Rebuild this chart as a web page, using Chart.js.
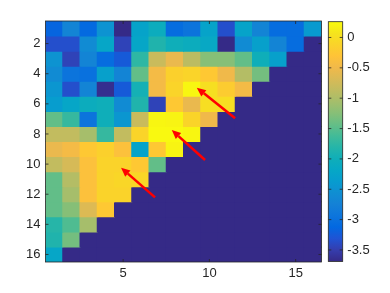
<!DOCTYPE html>
<html>
<head>
<meta charset="utf-8">
<script src="https://cdn.jsdelivr.net/npm/chart.js@4.4.1/dist/chart.umd.min.js"></script>
<style>
  html, body { margin: 0; padding: 0; background: #fff; }
  #wrap { position: relative; width: 390px; height: 293px; }
  #wrap canvas { position: absolute; left: 0; top: 0; }
</style>
</head>
<body>
<div id="wrap">
  <canvas id="heat" width="390" height="293"></canvas>
  <canvas id="cbar" width="390" height="293"></canvas>
</div>
<script>
// matrix columns / rows (1-based, row 1 drawn at the top)
const columns = ['1','2','3','4','5','6','7','8','9','10','11','12','13','14','15','16'];
const rowNumbers = [1,2,3,4,5,6,7,8,9,10,11,12,13,14,15,16];

// cell values, one array per row (left to right)
const row1  = [-3.15,-2.70,-3.10,-2.50,-3.69,-2.25,-2.05,-3.05,-2.95,-2.25,-3.35,-2.25,-2.70,-3.05,-3.05,-2.40];
const row2  = [-3.35,-3.35,-2.60,-2.20,-3.45,-2.20,-1.85,-2.00,-2.05,-2.15,-3.69,-2.60,-2.30,-2.70,-3.05,-3.69];
const row3  = [-2.50,-3.45,-2.70,-3.05,-3.25,-1.75,-0.80,-0.55,-0.90,-1.25,-1.25,-1.45,-2.00,-2.30,-3.69,-3.69];
const row4  = [-2.60,-2.95,-3.00,-2.30,-2.70,-1.45,-0.45,-0.15,-0.10,-0.25,-0.50,-0.95,-1.35,-3.69,-3.69,-3.69];
const row5  = [-2.45,-3.35,-2.70,-3.65,-3.25,-1.95,-0.45,-0.10, 0.22, 0.02,-0.20,-0.45,-3.69,-3.69,-3.69,-3.69];
const row6  = [-2.35,-2.20,-2.05,-2.00,-2.60,-1.85,-3.45,-0.25,-0.55, 0.00, 0.00,-3.69,-3.69,-3.69,-3.69,-3.69];
const row7  = [-1.45,-1.70,-2.95,-2.00,-2.45,-0.80, 0.22, 0.20,-0.10,-0.50,-3.69,-3.69,-3.69,-3.69,-3.69,-3.69];
const row8  = [-0.85,-0.85,-1.05,-1.70,-0.85,-0.10, 0.24, 0.24, 0.22,-3.69,-3.69,-3.69,-3.69,-3.69,-3.69,-3.69];
const row9  = [-0.55,-0.45,-0.25,-0.15,-0.35,-2.25,-0.25, 0.20,-3.69,-3.69,-3.69,-3.69,-3.69,-3.69,-3.69,-3.69];
const row10 = [-0.85,-0.70,-0.35,-0.12,-0.12,-0.25,-1.45,-3.69,-3.69,-3.69,-3.69,-3.69,-3.69,-3.69,-3.69,-3.69];
const row11 = [-1.45,-0.95,-0.35,-0.12,-0.08,-0.08,-3.69,-3.69,-3.69,-3.69,-3.69,-3.69,-3.69,-3.69,-3.69,-3.69];
const row12 = [-1.45,-1.05,-0.35,-0.12,-0.12,-3.69,-3.69,-3.69,-3.69,-3.69,-3.69,-3.69,-3.69,-3.69,-3.69,-3.69];
const row13 = [-1.45,-1.25,-0.65,-0.25,-3.69,-3.69,-3.69,-3.69,-3.69,-3.69,-3.69,-3.69,-3.69,-3.69,-3.69,-3.69];
const row14 = [-1.80,-1.55,-1.05,-3.69,-3.69,-3.69,-3.69,-3.69,-3.69,-3.69,-3.69,-3.69,-3.69,-3.69,-3.69,-3.69];
const row15 = [-1.85,-1.35,-3.69,-3.69,-3.69,-3.69,-3.69,-3.69,-3.69,-3.69,-3.69,-3.69,-3.69,-3.69,-3.69,-3.69];
const row16 = [-2.20,-3.69,-3.69,-3.69,-3.69,-3.69,-3.69,-3.69,-3.69,-3.69,-3.69,-3.69,-3.69,-3.69,-3.69,-3.69];
const matrixRows = [row1,row2,row3,row4,row5,row6,row7,row8,row9,row10,row11,row12,row13,row14,row15,row16];

const xTickValues = [5, 10, 15];
const yTickValues = [2, 4, 6, 8, 10, 12, 14, 16];
const colorbarTicks = [-3.5, -3, -2.5, -2, -1.5, -1, -0.5, 0];
const colorMin = -3.69;
const colorMax = 0.26;

// red arrows, [column, row] in matrix units
const arrowTails = [[11.49, 6.96], [9.75, 9.73], [6.85, 12.21]];
const arrowHeads = [[9.27, 4.93], [7.82, 7.74], [4.88, 10.24]];

// parula, sampled every 3rd entry of the 64-colour table
const parula = [
  [53,42,135],[53,61,173],[32,83,212],[2,104,225],[13,117,220],[20,129,214],
  [16,142,210],[7,156,207],[6,167,198],[15,174,185],[37,181,169],[66,187,152],
  [101,190,134],[135,191,119],[165,190,107],[192,188,96],[217,186,86],[241,185,74],
  [255,195,55],[250,211,42],[245,228,29],[249,251,14]
];

const FONT = { family: '"Liberation Sans", Arial, sans-serif', size: 13 };
const INK = '#262626';

Chart.defaults.animation = false;
Chart.defaults.font.family = FONT.family;

function colorFor(v) {
  let t = (v - colorMin) / (colorMax - colorMin);
  t = Math.max(0, Math.min(1, t));
  const p = t * (parula.length - 1);
  const i = Math.min(parula.length - 2, Math.floor(p));
  const f = p - i;
  const a = parula[i], b = parula[i + 1];
  const c = a.map((ch, k) => Math.round(ch + (b[k] - ch) * f));
  return `rgb(${c[0]},${c[1]},${c[2]})`;
}

function drawArrow(c, x0, y0, x1, y1) {
  const ang = Math.atan2(y1 - y0, x1 - x0);
  const len = 9, half = 4;
  const bx = x1 - len * Math.cos(ang), by = y1 - len * Math.sin(ang);
  c.strokeStyle = '#ff0000';
  c.fillStyle = '#ff0000';
  c.lineWidth = 2.5;
  c.beginPath();
  c.moveTo(x0, y0);
  c.lineTo(bx, by);
  c.stroke();
  c.beginPath();
  c.moveTo(x1, y1);
  c.lineTo(bx + half * Math.sin(ang), by - half * Math.cos(ang));
  c.lineTo(bx - half * Math.sin(ang), by + half * Math.cos(ang));
  c.closePath();
  c.fill();
}

const heatFrame = {
  id: 'heatFrame',
  afterDatasetsDraw(chart) {
    const { ctx: c, chartArea: a, scales: { x, y } } = chart;
    c.save();
    c.strokeStyle = INK;
    c.lineWidth = 0.8;
    c.strokeRect(a.left, a.top, a.right - a.left, a.bottom - a.top);
    c.beginPath();
    xTickValues.forEach(v => {
      const px = x.getPixelForValue(v - 1);
      c.moveTo(px, a.bottom); c.lineTo(px, a.bottom - 3);
      c.moveTo(px, a.top); c.lineTo(px, a.top + 3);
    });
    yTickValues.forEach(v => {
      const py = y.getPixelForValue(v);
      c.moveTo(a.left, py); c.lineTo(a.left + 3, py);
      c.moveTo(a.right, py); c.lineTo(a.right - 3, py);
    });
    c.stroke();
    arrowTails.forEach((t, i) => {
      const h = arrowHeads[i];
      drawArrow(c,
        x.getPixelForValue(t[0] - 1), y.getPixelForValue(t[1]),
        x.getPixelForValue(h[0] - 1), y.getPixelForValue(h[1]));
    });
    c.restore();
  }
};

function buildHeatmap() {
  const datasets = matrixRows.map((vals, r) => ({
    data: columns.map(() => [rowNumbers[r] - 0.5, rowNumbers[r] + 0.5]),
    backgroundColor: vals.map(colorFor),
    borderWidth: 0,
    inflateAmount: 0.5,
    barPercentage: 1,
    categoryPercentage: 1,
    grouped: false
  }));
  new Chart(document.getElementById('heat').getContext('2d'), {
    type: 'bar',
    data: { labels: columns, datasets },
    options: {
      responsive: false,
      layout: { padding: { top: 21, right: 68.5, left: 0, bottom: 0 } },
      plugins: { legend: { display: false }, tooltip: { enabled: false } },
      scales: {
        x: {
          type: 'category',
          grid: { display: false, drawTicks: false },
          border: { display: false },
          ticks: {
            autoSkip: false, maxRotation: 0, padding: 4,
            color: INK, font: FONT,
            callback: (val, i) => xTickValues.includes(i + 1) ? String(i + 1) : ''
          },
          afterFit: s => { s.height = 31; }
        },
        y: {
          type: 'linear', min: 0.5, max: 16.5, reverse: true,
          grid: { display: false, drawTicks: false },
          border: { display: false },
          afterBuildTicks: s => { s.ticks = yTickValues.map(v => ({ value: v })); },
          ticks: { padding: 5, color: INK, font: FONT, callback: v => String(v) },
          afterFit: s => { s.width = 45.5; }
        }
      }
    },
    plugins: [heatFrame]
  });
}

const cbarFrame = {
  id: 'cbarFrame',
  afterDatasetsDraw(chart) {
    const { ctx: c, chartArea: a, scales: { y } } = chart;
    c.save();
    c.strokeStyle = INK;
    c.lineWidth = 0.8;
    c.strokeRect(a.left, a.top, a.right - a.left, a.bottom - a.top);
    c.beginPath();
    colorbarTicks.forEach(v => {
      const py = y.getPixelForValue(v);
      c.moveTo(a.left, py); c.lineTo(a.left + 3, py);
      c.moveTo(a.right, py); c.lineTo(a.right - 3, py);
    });
    c.stroke();
    c.restore();
  }
};

function buildColorbar() {
  new Chart(document.getElementById('cbar').getContext('2d'), {
    type: 'bar',
    data: {
      labels: ['cb'],
      datasets: [{
        data: [[colorMin, colorMax]],
        backgroundColor: ctx => {
          const a = ctx.chart.chartArea;
          if (!a) return null;
          const g = ctx.chart.ctx.createLinearGradient(0, a.bottom, 0, a.top);
          parula.forEach((p, i) => g.addColorStop(i / (parula.length - 1), `rgb(${p[0]},${p[1]},${p[2]})`));
          return g;
        },
        borderWidth: 0,
        barPercentage: 1,
        categoryPercentage: 1
      }]
    },
    options: {
      responsive: false,
      layout: { padding: { top: 21.7, bottom: 31.5, left: 328.3, right: 0 } },
      plugins: { legend: { display: false }, tooltip: { enabled: false } },
      scales: {
        x: { display: false },
        y: {
          type: 'linear', position: 'right', min: colorMin, max: colorMax,
          grid: { display: false, drawTicks: false },
          border: { display: false },
          afterBuildTicks: s => { s.ticks = colorbarTicks.map(v => ({ value: v })); },
          ticks: { padding: 4.6, color: INK, font: FONT, callback: v => String(v) },
          afterFit: s => { s.width = 47.3; }
        }
      }
    },
    plugins: [cbarFrame]
  });
}

buildHeatmap();
buildColorbar();
</script>
</body>
</html>
